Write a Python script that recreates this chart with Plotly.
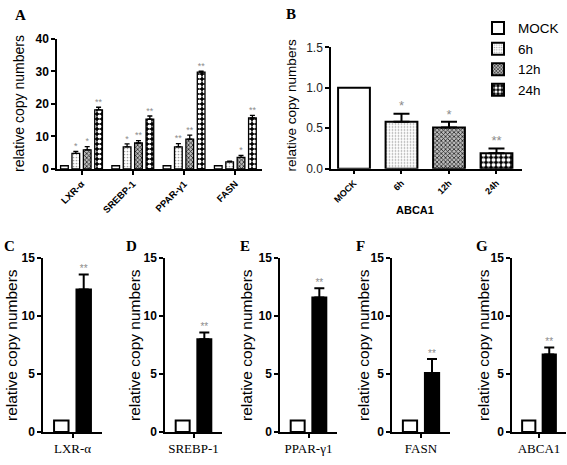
import plotly.graph_objects as go

W, H = 567, 465
SANS = "Liberation Sans, Arial, sans-serif"
SERIF = "Liberation Serif, Times New Roman, serif"

# ---------------- data ----------------
A_genes = ["LXR-α", "SREBP-1", "PPAR-γ1", "FASN"]
series = ["MOCK", "6h", "12h", "24h"]
A_mock = [1.0, 1.0, 1.0, 1.0]
A_mock_err = [0, 0, 0, 0]
A_6h = [4.8, 6.8, 6.8, 2.2]
A_6h_err = [0.6, 0.9, 1.0, 0.2]
A_12h = [5.9, 8.0, 9.2, 3.6]
A_12h_err = [1.0, 0.7, 1.2, 0.6]
A_24h = [18.2, 15.3, 29.8, 15.7]
A_24h_err = [0.8, 1.0, 0.3, 0.8]
A_mock_stars = ["", "", "", ""]
A_6h_stars = ["*", "*", "**", ""]
A_12h_stars = ["*", "**", "**", "*"]
A_24h_stars = ["**", "**", "**", "**"]

B_gene = "ABCA1"
B_values = [1.0, 0.58, 0.51, 0.19]
B_err = [0, 0.10, 0.07, 0.06]
B_stars = ["", "*", "*", "**"]

CG_genes = ["LXR-α", "SREBP-1", "PPAR-γ1", "FASN", "ABCA1"]
CG_mock = [1.0, 1.0, 1.0, 1.0, 1.0]
CG_treated = [12.3, 8.0, 11.6, 5.1, 6.7]
CG_treated_err = [1.3, 0.6, 0.8, 1.2, 0.6]
CG_stars = ["**", "**", "**", "**", "**"]
CG_letters = ["C", "D", "E", "F", "G"]

# ---------------- styles ----------------
PATTERNS = [
    dict(color="white", pattern=None),
    dict(color="white", pattern=dict(shape=".", fgcolor="#a0a0a0", bgcolor="white", size=3, solidity=0.25, fillmode="replace")),
    dict(color="#555", pattern=dict(shape="x", fgcolor="#222", bgcolor="#bbbbbb", size=3, solidity=0.45, fillmode="replace")),
    dict(color="black", pattern=dict(shape=".", fgcolor="white", bgcolor="black", size=5, solidity=0.5, fillmode="replace")),
]

def px_x(a, b):
    return [a / W, b / W]

def px_y(top, bottom):
    return [1 - bottom / H, 1 - top / H]

fig = go.Figure()

def marker_for(k, lw):
    p = PATTERNS[k]
    m = dict(color=p["color"], line=dict(color="black", width=lw))
    if p["pattern"] is not None:
        m["pattern"] = p["pattern"]
    return m

# ---------------- panel A ----------------
A_vals = [A_mock, A_6h, A_12h, A_24h]
A_errs = [A_mock_err, A_6h_err, A_12h_err, A_24h_err]
A_st = [A_mock_stars, A_6h_stars, A_12h_stars, A_24h_stars]
slot = 0.222
bw = 0.15
xs_idx = list(range(len(A_genes)))
for k in range(4):
    off = (k - 1.5) * slot
    err_arr = A_errs[k]
    fig.add_trace(go.Bar(
        x=xs_idx, y=A_vals[k], width=bw, offset=off - bw / 2,
        marker=marker_for(k, 1.3), showlegend=False, name=series[k],
        error_y=dict(type="data", array=err_arr, arrayminus=[0] * len(err_arr), symmetric=False,
                     color="black", thickness=1.3, width=2.5, visible=any(e > 0 for e in err_arr)),
        xaxis="x", yaxis="y", hoverinfo="skip"))
    fig.add_trace(go.Scatter(
        x=[i + off for i in xs_idx], y=[v + e for v, e in zip(A_vals[k], err_arr)],
        text=A_st[k], mode="text", textposition="top center",
        textfont=dict(size=9, color="#8c8c8c", family=SANS),
        showlegend=False, cliponaxis=False, xaxis="x", yaxis="y", hoverinfo="skip"))

# ---------------- panel B ----------------
for k in range(4):
    fig.add_trace(go.Bar(
        x=[k], y=[B_values[k]], width=0.67, name=series[k],
        marker=marker_for(k, 2), showlegend=True, legendgroup=series[k],
        error_y=dict(type="data", array=[B_err[k]], arrayminus=[0], symmetric=False,
                     color="black", thickness=2, width=8, visible=B_err[k] > 0),
        xaxis="x2", yaxis="y2", hoverinfo="skip"))
fig.add_trace(go.Scatter(
    x=list(range(4)), y=[v + e for v, e in zip(B_values, B_err)], text=B_stars,
    mode="text", textposition="top center",
    textfont=dict(size=13, color="#8c8c8c", family=SANS),
    showlegend=False, cliponaxis=False, xaxis="x2", yaxis="y2", hoverinfo="skip"))

# ---------------- panels C-G ----------------
cg_x = [(43, 102), (165, 222), (280, 337), (392, 450), (512, 566)]
for j, g in enumerate(CG_genes):
    ax = str(j + 3)
    fig.add_trace(go.Bar(
        x=[0], y=[CG_mock[j]], width=0.245, offset=-0.19 - 0.1225,
        marker=dict(color="white", line=dict(color="black", width=2)),
        showlegend=False, xaxis="x" + ax, yaxis="y" + ax, hoverinfo="skip"))
    fig.add_trace(go.Bar(
        x=[0], y=[CG_treated[j]], width=0.245, offset=0.19 - 0.1225,
        marker=dict(color="black", line=dict(color="black", width=2)),
        error_y=dict(type="data", array=[CG_treated_err[j]], arrayminus=[0], symmetric=False,
                     color="black", thickness=2, width=5),
        showlegend=False, xaxis="x" + ax, yaxis="y" + ax, hoverinfo="skip"))
    fig.add_trace(go.Scatter(
        x=[0.19], y=[CG_treated[j] + CG_treated_err[j]], text=[CG_stars[j]],
        mode="text", textposition="top center",
        textfont=dict(size=10, color="#8c8c8c", family=SANS),
        showlegend=False, cliponaxis=False, xaxis="x" + ax, yaxis="y" + ax, hoverinfo="skip"))

# ---------------- axes ----------------
common = dict(showgrid=False, zeroline=False, showline=True, linecolor="black", linewidth=1.5,
              ticks="outside", tickcolor="black", tickwidth=1.5, ticklen=4, fixedrange=True)

lay = dict(
    width=W, height=H, margin=dict(l=0, r=0, t=0, b=0),
    paper_bgcolor="white", plot_bgcolor="white", barmode="overlay",
    font=dict(family=SANS, color="black"),
)

# A
lay["xaxis"] = dict(common, domain=px_x(57, 262), anchor="y", range=[-0.478, 3.52],
                    tickvals=xs_idx, ticktext=A_genes, tickangle=-45,
                    tickfont=dict(size=9.5, family=SANS, weight="bold"))
lay["yaxis"] = dict(common, domain=px_y(33, 167), anchor="x", range=[0, 40],
                    tickvals=[0, 10, 20, 30, 40], tickfont=dict(size=12, family=SANS, weight="bold"))
# B
lay["xaxis2"] = dict(common, domain=px_x(331, 522), anchor="y2", range=[-0.484, 3.537],
                     tickvals=list(range(4)), ticktext=series, tickangle=-45,
                     tickfont=dict(size=9, family=SANS, weight="bold"))
lay["yaxis2"] = dict(common, domain=px_y(41.7, 166.7), anchor="x2", range=[0, 1.5],
                     tickvals=[0, 0.5, 1.0, 1.5], ticktext=["0.0", "0.5", "1.0", "1.5"],
                     tickfont=dict(size=12, family=SANS, color="#222"))
# C-G
for j, g in enumerate(CG_genes):
    ax = str(j + 3)
    a, b = cg_x[j]
    lay["xaxis" + ax] = dict(common, domain=px_x(a, b), anchor="y" + ax, range=[-0.5, 0.5],
                             tickvals=[0], ticktext=[g], tickfont=dict(size=13, family=SERIF))
    lay["yaxis" + ax] = dict(common, domain=px_y(259, 438.3), anchor="x" + ax, range=[0, 15],
                             tickvals=[0, 5, 10, 15], tickfont=dict(size=12, family=SANS, weight="bold"))

lay["legend"] = dict(x=478 / W, y=1 - 6 / H, xanchor="left", yanchor="top",
                     font=dict(size=13.5, family=SANS), bgcolor="rgba(0,0,0,0)",
                     tracegroupgap=0, traceorder="normal")

fig.update_layout(**lay)

# ---------------- annotations ----------------
def ann(x, y, text, size, family=SANS, angle=0, bold=False, color="black"):
    fig.add_annotation(x=x / W, y=1 - y / H, xref="paper", yref="paper", text=text,
                       showarrow=False, textangle=angle, xanchor="center", yanchor="middle",
                       font=dict(size=size, family=family, color=color, weight="bold" if bold else "normal"))

ann(19, 100, "relative copy numbers", 14, angle=-90)
ann(291.5, 102, "relative copy numbers", 13.5, angle=-90)
ann(414.5, 209, B_gene, 11, bold=True)
for j, xc in enumerate([11, 134, 246, 363, 483]):
    ann(xc, 348.5, "relative copy numbers", 15.5, angle=-90)

ann(20, 8, "A", 15, family=SERIF, bold=True)
ann(291, 7, "B", 15, family=SERIF, bold=True)
for letter, xc in zip(CG_letters, [9, 131, 245, 360, 482]):
    ann(xc, 246, letter, 15, family=SERIF, bold=True)

fig.write_html("out.html", config={"displayModeBar": False},
               post_script="document.body.style.margin='0';document.body.style.overflow='hidden';")
